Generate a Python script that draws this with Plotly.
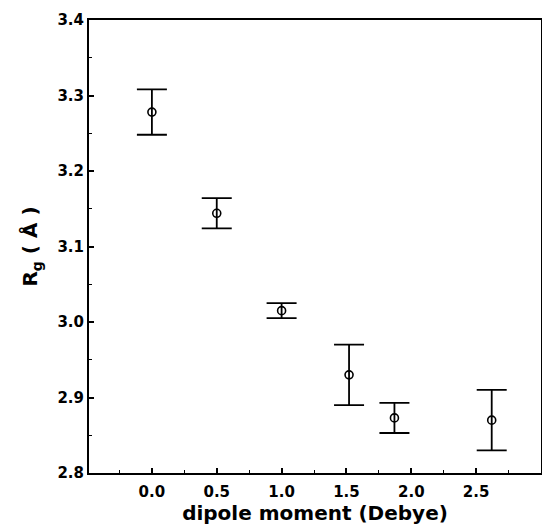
import plotly.graph_objects as go

dipole = [0.0, 0.5, 1.0, 1.52, 1.87, 2.62]
rg = [3.278, 3.144, 3.015, 2.930, 2.873, 2.870]
rg_err = [0.030, 0.020, 0.010, 0.040, 0.020, 0.040]

x_ticks = [0.0, 0.5, 1.0, 1.5, 2.0, 2.5]
x_labels = ["0.0", "0.5", "1.0", "1.5", "2.0", "2.5"]
y_ticks = [2.8, 2.9, 3.0, 3.1, 3.2, 3.3, 3.4]
y_labels = ["2.8", "2.9", "3.0", "3.1", "3.2", "3.3", "3.4"]

x_range = [-0.485, 3.0]
y_range = [2.8, 3.4]

font = "DejaVu Sans, Arial, sans-serif"

fig = go.Figure(go.Scatter(
    x=dipole, y=rg, mode="markers",
    marker=dict(symbol="circle-open", size=8, color="black", line=dict(width=1.6)),
    error_y=dict(type="data", array=rg_err, visible=True, color="black",
                 thickness=1.8, width=15),
    showlegend=False,
))

tick_style = dict(ticks="inside", ticklen=5, tickwidth=1.5, tickcolor="black")
axis_common = dict(
    showgrid=False, zeroline=False, showline=True, linecolor="black", linewidth=2,
    mirror=True, **tick_style,
    tickfont=dict(family=font, size=15, color="black", weight="bold"),
)
x_minor = dict(dtick=0.25, tick0=0, ticks="inside", ticklen=3, tickwidth=1.2, tickcolor="black")
y_minor = dict(dtick=0.05, tick0=2.8, ticks="inside", ticklen=3, tickwidth=1.2, tickcolor="black")

fig.update_layout(
    xaxis=dict(
        range=x_range, tickvals=x_ticks, ticktext=x_labels, minor=x_minor,
        ticklabelstandoff=4,
        title=dict(text="dipole moment (Debye)", standoff=6,
                   font=dict(family=font, size=20, color="black", weight="bold")),
        **axis_common,
    ),
    yaxis=dict(
        range=y_range, tickvals=y_ticks, ticktext=y_labels, minor=y_minor,
        title=dict(text="R<sub>g</sub> ( Å )", standoff=14,
                   font=dict(family=font, size=20, color="black", weight="bold")),
        **axis_common,
    ),
    # mirrored axes on top and right carrying the inside ticks
    xaxis2=dict(overlaying="x", side="top", range=x_range, tickvals=x_ticks,
                showticklabels=False, minor=x_minor, showgrid=False, zeroline=False,
                showline=True, linecolor="black", linewidth=2, **tick_style),
    yaxis2=dict(overlaying="y", side="right", range=y_range, tickvals=y_ticks,
                showticklabels=False, minor=y_minor, showgrid=False, zeroline=False,
                showline=True, linecolor="black", linewidth=1.5, **tick_style),
    width=542, height=527,
    margin=dict(l=89, r=1, t=20, b=54, autoexpand=False),
    plot_bgcolor="white", paper_bgcolor="white",
)

# remove the page's default body margin so the figure sits at the window origin
fig.write_html(
    "out.html",
    config={"displayModeBar": False},
    post_script="document.body.style.margin='0';document.body.style.overflow='hidden';",
)
